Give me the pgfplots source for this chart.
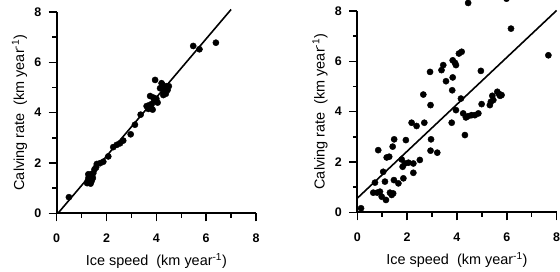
\documentclass[border=0pt]{standalone}
\usepackage{fontspec}
\setmainfont{Liberation Sans}
\usepackage{pgfplots}
\pgfplotsset{compat=1.18}
\pgfplotsset{
 mystyle/.style={
  scale only axis, width=199.3bp, height=201.3bp, anchor=south west,
  xmin=0,xmax=8,ymin=0,ymax=8,
  axis lines=left, axis line style={-, line width=1.8bp},
  xtick={1,3,5,7}, ytick={1,3,5,7}, xticklabels={}, yticklabels={},
  extra x ticks={0,2,4,6,8}, extra y ticks={0,2,4,6,8},
  extra tick style={major tick length=8bp},
  tick align=outside, major tick length=4.5bp,
  major tick style={black, line width=1.5bp},
  tick label style={font=\bfseries\fontsize{12.5}{13}\selectfont},
  xticklabel style={yshift=-9bp},
  yticklabel style={xshift=-4bp},
  /pgf/number format/assume math mode=true,
  xlabel={Ice speed\ \ (km year\textsuperscript{-1})},
  ylabel={Calving rate\ \ (km year\textsuperscript{-1})},
  label style={font=\fontsize{14.5}{15}\selectfont},
  xlabel style={at={(axis description cs:0.5,0)}, anchor=base, yshift=-52bp},
  ylabel style={at={(axis description cs:-0.164,0.5)}, anchor=base},
  clip=false,
 },
 dots/.style={only marks, mark=*, mark size=3.1bp, black},
}
\begin{document}
\begin{tikzpicture}
\path[use as bounding box] (0,0) rectangle (560bp,272bp);
\clip (0,0) rectangle (560bp,272bp);
\begin{axis}[mystyle, at={(56.7bp,58.7bp)}]
\addplot[line width=1.6bp, black] coordinates {(0.05,0) (7.0,8.1)};
\addplot[dots] coordinates {
(0.49,0.64)
(1.22,1.20) (1.25,1.30) (1.28,1.42) (1.30,1.25) (1.32,1.50) (1.35,1.35) (1.38,1.55)
(1.40,1.28) (1.42,1.45) (1.45,1.40) (1.47,1.60) (1.27,1.55) (1.36,1.18)
(1.52,1.75) (1.58,1.82) (1.61,1.96)
(1.74,1.99) (1.87,2.05)
(2.07,2.26)
(2.27,2.63) (2.41,2.72) (2.54,2.78) (2.67,2.89)
(2.97,3.14)
(3.14,3.52)
(3.37,3.92)
(3.61,4.26) (3.68,4.15) (3.72,4.30) (3.78,4.20) (3.82,4.35) (3.85,4.12)
(3.75,4.66)
(3.95,5.30)
(3.92,4.50) (4.00,4.55) (4.05,4.40) (3.88,4.60)
(4.15,4.97) (4.21,5.17) (4.30,4.80) (4.35,4.95) (4.40,5.05) (4.45,4.90) (4.28,4.70)
(4.38,4.75) (4.50,5.05) (4.25,5.10)
(5.48,6.65) (5.73,6.52) (6.39,6.78)
};
\end{axis}
\begin{axis}[mystyle, at={(357.3bp,59.7bp)}]
\addplot[line width=1.6bp, black] coordinates {(0,0.56) (8.0,8.02)};
\addplot[dots] coordinates {
(0.15,0.16) (0.64,0.78) (0.71,1.18) (0.84,2.47) (0.80,0.78) (0.91,0.82) (0.98,0.62)
(1.04,1.61) (1.11,1.22) (1.15,0.49) (1.18,2.18) (1.28,2.21) (1.31,0.78) (1.38,0.69)
(1.44,0.75) (1.42,2.61) (1.48,2.90) (1.47,1.28) (1.65,1.15) (1.82,1.81) (1.85,1.35)
(1.78,2.10) (1.95,2.87) (1.91,1.94) (2.05,1.97) (2.18,3.56) (2.25,1.94) (2.25,1.57)
(2.38,3.43) (2.51,2.08) (2.65,4.68) (2.69,3.56) (2.92,5.58) (2.94,4.26) (2.96,2.90)
(2.94,2.45) (3.21,2.37) (3.38,5.65) (3.45,5.85) (3.56,5.21) (3.79,3.56) (3.81,4.85)
(3.83,5.36) (3.83,6.04) (3.92,5.94) (3.96,5.85) (3.96,4.06) (4.08,6.31) (4.19,6.38)
(4.16,4.52) (4.25,3.93) (4.32,3.07) (4.36,3.77) (4.45,3.82) (4.59,3.86) (4.72,3.86)
(4.86,3.93) (4.99,4.30) (4.96,5.62) (5.32,4.26) (5.36,4.39) (5.42,4.63) (5.46,4.46)
(5.62,4.79) (5.69,4.70) (5.73,4.63) (5.79,4.66) (6.17,7.30) (7.67,6.24)
(4.45,8.32) (5.99,8.49)
};
\end{axis}
\end{tikzpicture}
\end{document}
